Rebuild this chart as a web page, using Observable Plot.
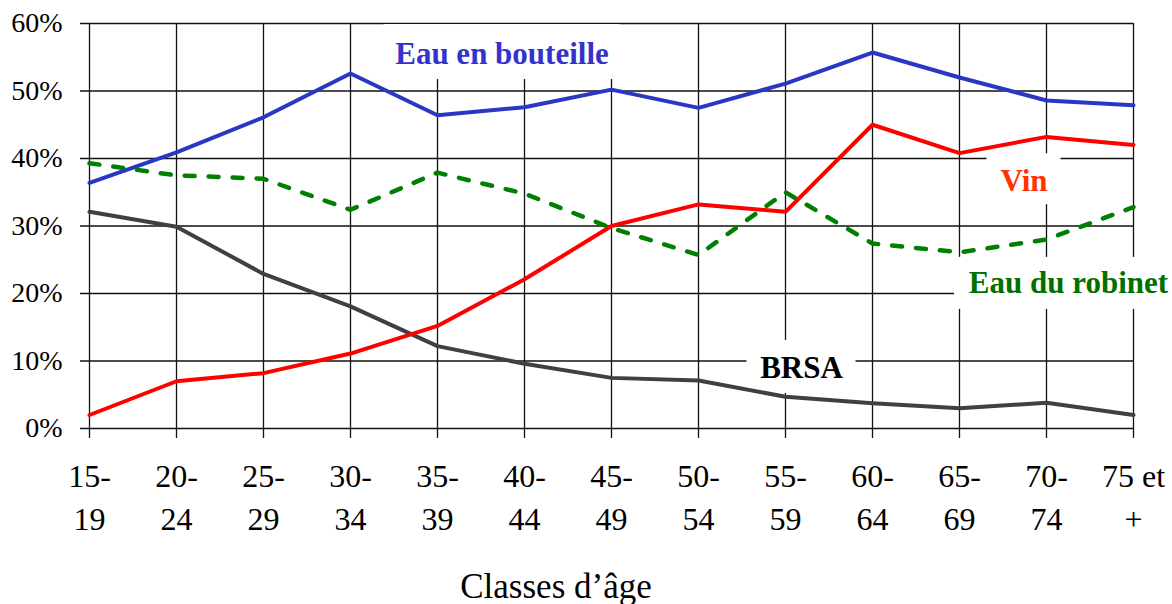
<!DOCTYPE html>
<html>
<head>
<meta charset="utf-8">
<script src="https://cdn.jsdelivr.net/npm/d3@7"></script>
<script src="https://cdn.jsdelivr.net/npm/@observablehq/plot@0.6"></script>
<style>
  html, body { margin: 0; padding: 0; background: #fff; }
  #chart svg { display: block; }
</style>
</head>
<body>
<div id="chart"></div>
<script>
// ---- data ----
const categories = ["15-19","20-24","25-29","30-34","35-39","40-44","45-49","50-54","55-59","60-64","65-69","70-74","75 et +"];
const tickTop    = ["15-","20-","25-","30-","35-","40-","45-","50-","55-","60-","65-","70-","75 et"];
const tickBottom = ["19","24","29","34","39","44","49","54","59","64","69","74","+"];
const eauBouteille = [36.4, 40.9, 46.1, 52.6, 46.4, 47.6, 50.2, 47.5, 51.1, 55.7, 52.0, 48.6, 47.9];
const vin          = [2.0, 7.0, 8.2, 11.1, 15.2, 22.1, 30.0, 33.2, 32.1, 45.0, 40.8, 43.2, 42.0];
const eauRobinet   = [39.3, 37.5, 37.0, 32.4, 37.9, 34.8, 29.7, 25.7, 35.0, 27.4, 26.1, 28.0, 32.8];
const brsa         = [32.1, 29.9, 22.9, 18.1, 12.2, 9.6, 7.5, 7.1, 4.7, 3.75, 3.0, 3.8, 2.0];
const yTicks = [0, 10, 20, 30, 40, 50, 60];
const xTitle = "Classes d’âge";

// series labels (annotation)
const labels = [
  {text: "Eau en bouteille", cat: "40-44", value: 55.4, dx: -22.5, color: "#3333cc", w: 236, h: 55, bdy: -2.5},
  {text: "Vin",              cat: "70-74", value: 36.7, dx: -22.5, color: "#ff3300", w: 74,  h: 51, bdy: -1.5},
  {text: "Eau du robinet",   cat: "70-74", value: 21.5, dx: 22,    color: "#007000", w: 228, h: 52, bdy: 0},
  {text: "BRSA",             cat: "55-59", value: 8.9,  dx: 16,    color: "#000000", w: 109, h: 53, bdy: -1.5}
];

const rows = (arr) => categories.map((c, i) => ({cat: c, v: arr[i]}));
const SERIF = "Liberation Serif";

function labelBoxes(index, scales) {
  const g = d3.create("svg:g");
  for (const l of labels) {
    const cx = scales.x(l.cat) + l.dx;
    const cy = scales.y(l.value) + l.bdy;
    g.append("rect")
      .attr("x", cx - l.w / 2).attr("y", cy - l.h / 2)
      .attr("width", l.w).attr("height", l.h)
      .attr("fill", "#fff");
  }
  return g.node();
}

const labelMarks = labels.map((l) =>
  Plot.text([l], {x: "cat", y: "value", dx: l.dx, text: "text", fill: l.color,
    fontSize: 31, fontWeight: "bold", fontFamily: SERIF})
);

const chart = Plot.plot({
  width: 1172,
  height: 604,
  marginLeft: 88,
  marginRight: 39,
  marginTop: 23,
  marginBottom: 176,
  style: {background: "#fff", color: "#000"},
  x: {type: "point", domain: categories, padding: 0},
  y: {domain: [0, 60]},
  marks: [
    Plot.ruleY(yTicks, {stroke: "#111", strokeWidth: 1.3, insetLeft: -8}),
    Plot.ruleX(categories, {stroke: "#111", strokeWidth: 1.3, insetBottom: -10}),
    labelBoxes,
    Plot.line(rows(brsa), {x: "cat", y: "v", stroke: "#404040", strokeWidth: 4}),
    Plot.line(rows(vin), {x: "cat", y: "v", stroke: "#ff0000", strokeWidth: 4}),
    Plot.line(rows(eauBouteille), {x: "cat", y: "v", stroke: "#2a36c4", strokeWidth: 4}),
    Plot.line(rows(eauRobinet), {x: "cat", y: "v", stroke: "#008000", strokeWidth: 4.5, strokeDasharray: "10,14"}),
    ...labelMarks,
    Plot.axisY(yTicks, {tickSize: 0, tickPadding: 26, fontSize: 28, fontFamily: SERIF, tickFormat: (d) => d + "%", label: null, fill: "#000"}),
    Plot.axisX({tickSize: 0, tickPadding: 28, fontSize: 32, fontFamily: SERIF, lineHeight: 1.34, label: null, fill: "#000",
      tickFormat: (d) => { const i = categories.indexOf(d); return tickTop[i] + "\n" + tickBottom[i]; }}),
    Plot.text([xTitle], {frameAnchor: "bottom", dy: 169, dx: -55, text: (d) => d, fontSize: 35, fontFamily: SERIF, fill: "#000"})
  ]
});
chart.setAttribute("font-family", SERIF);
document.getElementById("chart").append(chart);
</script>
</body>
</html>
